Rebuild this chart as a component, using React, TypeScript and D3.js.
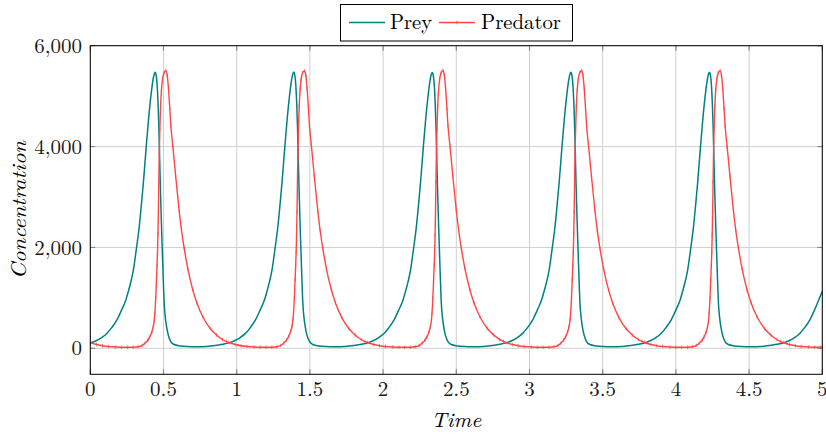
import * as d3 from 'd3';

// Prey concentration (one line per oscillation)
const preyTime = [
  0.000, 0.043, 0.077, 0.113, 0.145, 0.183, 0.214, 0.243, 0.259, 0.278, 0.293, 0.316, 0.332, 0.346, 0.363, 0.382, 0.398, 0.413, 0.425, 0.435, 0.443, 0.450, 0.457, 0.463, 0.468, 0.473, 0.479, 0.485, 0.491, 0.498, 0.505, 0.513, 0.521, 0.533, 0.550, 0.573, 0.613, 0.663, 0.723, 0.793, 0.853, 0.903,
  0.947, 0.990, 1.024, 1.060, 1.092, 1.130, 1.161, 1.190, 1.206, 1.225, 1.240, 1.263, 1.279, 1.293, 1.310, 1.329, 1.345, 1.360, 1.372, 1.382, 1.390, 1.397, 1.404, 1.410, 1.415, 1.420, 1.426, 1.432, 1.438, 1.445, 1.452, 1.460, 1.468, 1.480, 1.497, 1.520, 1.560, 1.610, 1.670, 1.740, 1.800, 1.850,
  1.893, 1.936, 1.970, 2.006, 2.038, 2.076, 2.107, 2.136, 2.152, 2.171, 2.186, 2.209, 2.225, 2.239, 2.256, 2.275, 2.291, 2.306, 2.318, 2.328, 2.336, 2.343, 2.350, 2.356, 2.361, 2.366, 2.372, 2.378, 2.384, 2.391, 2.398, 2.406, 2.414, 2.426, 2.443, 2.466, 2.506, 2.556, 2.616, 2.686, 2.746, 2.796,
  2.840, 2.883, 2.917, 2.953, 2.985, 3.023, 3.054, 3.083, 3.099, 3.118, 3.133, 3.156, 3.172, 3.186, 3.203, 3.222, 3.238, 3.253, 3.265, 3.275, 3.283, 3.290, 3.297, 3.303, 3.308, 3.313, 3.319, 3.325, 3.331, 3.338, 3.345, 3.353, 3.361, 3.373, 3.390, 3.413, 3.453, 3.503, 3.563, 3.633, 3.693, 3.743,
  3.786, 3.829, 3.863, 3.899, 3.931, 3.969, 4.000, 4.029, 4.045, 4.064, 4.079, 4.102, 4.118, 4.132, 4.149, 4.168, 4.184, 4.199, 4.211, 4.221, 4.229, 4.236, 4.243, 4.249, 4.254, 4.259, 4.265, 4.271, 4.277, 4.284, 4.291, 4.299, 4.307, 4.319, 4.336, 4.359, 4.399, 4.449, 4.509, 4.579, 4.639, 4.689,
  4.733, 4.776, 4.810, 4.846, 4.878, 4.916, 4.947, 4.976, 5.000,
];
const preyValue = [
  105, 155, 212, 295, 405, 570, 762, 960, 1120, 1330, 1530, 2000, 2354, 2752, 3300, 4000, 4550, 4980, 5260, 5420, 5473, 5410, 5200, 4850, 4420, 3850, 3150, 2550, 2000, 1400, 880, 600, 430, 260, 135, 75, 48, 36, 32, 37, 55, 80,
  108, 156, 214, 296, 406, 572, 765, 962, 1122, 1332, 1534, 2004, 2360, 2756, 3306, 4004, 4556, 4986, 5266, 5426, 5480, 5414, 5204, 4852, 4424, 3852, 3152, 2552, 2002, 1402, 882, 602, 432, 262, 136, 76, 48, 36, 32, 37, 55, 80,
  107, 155, 212, 294, 404, 569, 760, 958, 1118, 1328, 1528, 1998, 2352, 2750, 3298, 3998, 4548, 4978, 5258, 5418, 5470, 5408, 5198, 4848, 4418, 3848, 3148, 2548, 1998, 1398, 878, 598, 428, 258, 134, 75, 48, 36, 32, 37, 55, 80,
  108, 156, 213, 296, 406, 571, 764, 961, 1121, 1331, 1532, 2002, 2356, 2754, 3302, 4002, 4552, 4982, 5262, 5422, 5476, 5412, 5202, 4851, 4421, 3851, 3151, 2551, 2001, 1401, 881, 601, 431, 261, 135, 75, 48, 36, 32, 37, 55, 80,
  107, 155, 212, 295, 405, 570, 762, 960, 1120, 1330, 1530, 2000, 2354, 2752, 3300, 4000, 4550, 4980, 5260, 5420, 5472, 5410, 5200, 4850, 4420, 3850, 3150, 2550, 2000, 1400, 880, 600, 430, 260, 135, 75, 48, 36, 32, 37, 55, 80,
  107, 155, 212, 295, 405, 570, 762, 960, 1130,
];

// Predator concentration
const predatorTime = [
  0.000, 0.043, 0.083, 0.123, 0.173, 0.214, 0.253, 0.293, 0.327, 0.353, 0.373, 0.393, 0.407, 0.421, 0.430, 0.437, 0.441, 0.447, 0.452, 0.456, 0.459, 0.462, 0.465, 0.468, 0.471, 0.475, 0.480, 0.486, 0.493, 0.503, 0.516, 0.525, 0.534, 0.543, 0.550, 0.564, 0.583, 0.607, 0.623, 0.641, 0.666, 0.700, 0.728, 0.770, 0.819, 0.862, 0.903, 0.930,
  0.947, 0.990, 1.030, 1.070, 1.120, 1.161, 1.200, 1.240, 1.274, 1.300, 1.320, 1.340, 1.354, 1.368, 1.377, 1.384, 1.388, 1.394, 1.399, 1.403, 1.406, 1.409, 1.412, 1.415, 1.418, 1.422, 1.427, 1.433, 1.440, 1.450, 1.463, 1.472, 1.481, 1.490, 1.497, 1.511, 1.530, 1.554, 1.570, 1.588, 1.613, 1.647, 1.675, 1.717, 1.766, 1.809, 1.850, 1.877,
  1.893, 1.936, 1.976, 2.016, 2.066, 2.107, 2.146, 2.186, 2.220, 2.246, 2.266, 2.286, 2.300, 2.314, 2.323, 2.330, 2.334, 2.340, 2.345, 2.349, 2.352, 2.355, 2.358, 2.361, 2.364, 2.368, 2.373, 2.379, 2.386, 2.396, 2.409, 2.418, 2.427, 2.436, 2.443, 2.457, 2.476, 2.500, 2.516, 2.534, 2.559, 2.593, 2.621, 2.663, 2.712, 2.755, 2.796, 2.823,
  2.840, 2.883, 2.923, 2.963, 3.013, 3.054, 3.093, 3.133, 3.167, 3.193, 3.213, 3.233, 3.247, 3.261, 3.270, 3.277, 3.281, 3.287, 3.292, 3.296, 3.299, 3.302, 3.305, 3.308, 3.311, 3.315, 3.320, 3.326, 3.333, 3.343, 3.356, 3.365, 3.374, 3.383, 3.390, 3.404, 3.423, 3.447, 3.463, 3.481, 3.506, 3.540, 3.568, 3.610, 3.659, 3.702, 3.743, 3.770,
  3.786, 3.829, 3.869, 3.909, 3.959, 4.000, 4.039, 4.079, 4.113, 4.139, 4.159, 4.179, 4.193, 4.207, 4.216, 4.223, 4.227, 4.233, 4.238, 4.242, 4.245, 4.248, 4.251, 4.254, 4.257, 4.261, 4.266, 4.272, 4.279, 4.289, 4.302, 4.311, 4.320, 4.329, 4.336, 4.350, 4.369, 4.393, 4.409, 4.427, 4.452, 4.486, 4.514, 4.556, 4.605, 4.648, 4.689, 4.716,
  4.733, 4.776, 4.816, 4.856, 4.906, 4.947, 4.986, 5.000,
];
const predatorValue = [
  112, 75, 52, 37, 26, 22, 20, 22, 32, 55, 100, 160, 231, 330, 430, 560, 696, 1000, 1359, 1650, 1900, 2250, 2700, 3300, 3850, 4350, 4800, 5120, 5330, 5460, 5505, 5420, 5150, 4750, 4420, 4000, 3420, 2730, 2340, 1990, 1580, 1160, 900, 615, 393, 266, 175, 135,
  115, 76, 52, 37, 26, 22, 20, 22, 32, 56, 102, 162, 233, 332, 432, 562, 698, 1004, 1362, 1654, 1904, 2254, 2704, 3304, 3854, 4354, 4804, 5124, 5334, 5464, 5500, 5416, 5146, 4746, 4416, 3996, 3416, 2726, 2336, 1986, 1576, 1156, 898, 613, 392, 265, 175, 135,
  115, 75, 52, 37, 26, 22, 20, 22, 32, 55, 100, 160, 231, 330, 430, 560, 696, 1000, 1359, 1650, 1900, 2250, 2700, 3300, 3850, 4350, 4800, 5120, 5330, 5460, 5508, 5422, 5152, 4752, 4422, 4002, 3422, 2732, 2342, 1992, 1582, 1162, 902, 616, 394, 267, 176, 135,
  114, 75, 52, 37, 26, 22, 20, 22, 32, 55, 101, 161, 232, 331, 431, 561, 697, 1002, 1360, 1652, 1902, 2252, 2702, 3302, 3852, 4352, 4802, 5122, 5332, 5462, 5503, 5418, 5148, 4748, 4418, 3998, 3418, 2728, 2338, 1988, 1578, 1158, 899, 614, 393, 266, 175, 135,
  115, 75, 52, 37, 26, 22, 20, 22, 32, 55, 100, 160, 231, 330, 430, 560, 696, 1000, 1359, 1650, 1900, 2250, 2700, 3300, 3850, 4350, 4800, 5120, 5330, 5460, 5506, 5420, 5150, 4750, 4420, 4000, 3420, 2730, 2340, 1990, 1580, 1160, 900, 615, 393, 266, 175, 135,
  115, 75, 52, 37, 26, 22, 20, 21,
];

const xTicks = [0, 0.5, 1, 1.5, 2, 2.5, 3, 3.5, 4, 4.5, 5];
const yTicks = [0, 2000, 4000, 6000];
const seriesNames = ['Prey', 'Predator'];
const seriesColors = ['#008080', '#ff4545'];

const width = 826;
const height = 434;
const left = 90.3;
const right = 822.3;
const top = 45.7;
const bottom = 374.3;
const font = "'Latin Modern Roman', 'CMU Serif', 'Liberation Serif', serif";

export default function App() {
  const x = d3.scaleLinear().domain([0, 5]).range([left, right]);
  const y = d3.scaleLinear().domain([-515, 6000]).range([bottom, top]);

  const line = d3
    .line<number>()
    .x((t) => x(t))
    .curve(d3.curveMonotoneX);

  const preyPath = line.y((_, i) => y(preyValue[i]))(preyTime);
  const predPath = line.y((_, i) => y(predatorValue[i]))(predatorTime);

  const fmt = d3.format(',');

  return (
    <svg
      width={width}
      height={height}
      style={{ position: 'absolute', left: 0, top: 0, background: '#fff' }}
      fontFamily={font}
    >
      <defs>
        <clipPath id='plot'>
          <rect x={left} y={top - 2} width={right - left} height={bottom - top + 2} />
        </clipPath>
      </defs>

      {/* grid */}
      <g stroke='#d0d0d0' strokeWidth={1}>
        {xTicks.map((t) => (
          <line key={'gx' + t} x1={x(t)} x2={x(t)} y1={top} y2={bottom} />
        ))}
        {yTicks.map((v) => (
          <line key={'gy' + v} x1={left} x2={right} y1={y(v)} y2={y(v)} />
        ))}
      </g>

      {/* ticks on all four sides, pointing in */}
      <g stroke='#8a8a8a' strokeWidth={1.2}>
        {xTicks.map((t) => (
          <g key={'tx' + t}>
            <line x1={x(t)} x2={x(t)} y1={bottom} y2={bottom - 5} />
            <line x1={x(t)} x2={x(t)} y1={top} y2={top + 5} />
          </g>
        ))}
        {yTicks.map((v) => (
          <g key={'ty' + v}>
            <line x1={left} x2={left + 5} y1={y(v)} y2={y(v)} />
            <line x1={right} x2={right - 5} y1={y(v)} y2={y(v)} />
          </g>
        ))}
      </g>

      <g clipPath='url(#plot)' fill='none'>
        <path d={preyPath ?? ''} stroke={seriesColors[0]} strokeWidth={1.5} />
        <path d={predPath ?? ''} stroke={seriesColors[1]} strokeWidth={1.4} />
        <g stroke={seriesColors[1]} strokeWidth={0.7}>
          {predatorTime.map((t, i) => (
            <line
              key={i}
              x1={x(t)}
              x2={x(t)}
              y1={y(predatorValue[i]) - 1.8}
              y2={y(predatorValue[i]) + 1.8}
            />
          ))}
        </g>
      </g>

      {/* frame */}
      <rect
        x={left}
        y={top}
        width={right - left}
        height={bottom - top}
        fill='none'
        stroke='#000'
        strokeWidth={1}
      />

      {/* tick labels */}
      <g fontSize={21} fill='#1a1a1a'>
        {xTicks.map((t) => (
          <text key={'lx' + t} x={x(t)} y={396} textAnchor='middle'>
            {String(t)}
          </text>
        ))}
        {yTicks.map((v) => (
          <text key={'ly' + v} x={82} y={y(v)} dy='0.34em' textAnchor='end'>
            {fmt(v)}
          </text>
        ))}
      </g>

      {/* axis titles */}
      <text
        x={(left + right) / 2}
        y={427}
        textAnchor='middle'
        fontSize={21}
        fontStyle='italic'
        textLength={50}
        lengthAdjust='spacingAndGlyphs'
      >
        Time
      </text>
      <text
        transform={`translate(25.5, ${(top + bottom) / 2}) rotate(-90)`}
        textAnchor='middle'
        fontSize={21}
        fontStyle='italic'
        textLength={138}
        lengthAdjust='spacingAndGlyphs'
      >
        Concentration
      </text>

      {/* legend */}
      <g>
        <rect x={340.5} y={4.5} width={232} height={36.5} fill='#fff' stroke='#000' strokeWidth={1} />
        <line x1={349} x2={385} y1={22.5} y2={22.5} stroke={seriesColors[0]} strokeWidth={1.5} />
        <text x={390} y={28.5} fontSize={21} textLength={42} lengthAdjust='spacingAndGlyphs'>
          {seriesNames[0]}
        </text>
        <line x1={439} x2={475} y1={22.5} y2={22.5} stroke={seriesColors[1]} strokeWidth={1.4} />
        <line x1={457} x2={457} y1={20.7} y2={24.3} stroke={seriesColors[1]} strokeWidth={0.8} />
        <text x={481} y={28.5} fontSize={21} textLength={80} lengthAdjust='spacingAndGlyphs'>
          {seriesNames[1]}
        </text>
      </g>
    </svg>
  );
}
